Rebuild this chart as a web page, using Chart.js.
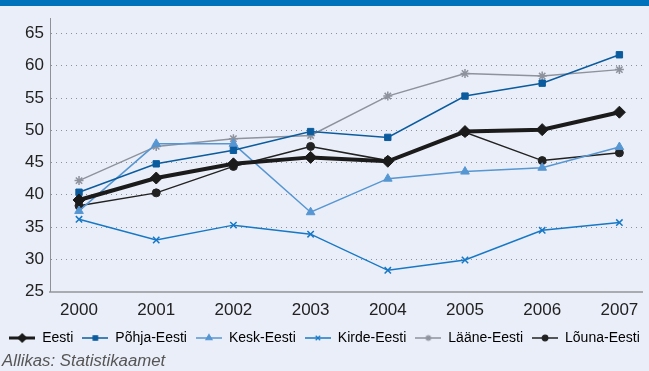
<!DOCTYPE html>
<html>
<head>
<meta charset="utf-8">
<script src="https://cdn.jsdelivr.net/npm/chart.js@4/dist/chart.umd.min.js"></script>
<style>
  html, body { margin: 0; padding: 0; }
  body { width: 649px; height: 371px; background: #eaeef8; position: relative; overflow: hidden;
         font-family: "Liberation Sans", Arial, sans-serif; }
  #topbar { position: absolute; left: 0; top: 0; width: 649px; height: 6px; background: #0071bb; }
  #chart { position: absolute; left: 0; top: 6px; }
  #source { position: absolute; left: 2px; top: 351px; font-size: 16.8px; font-style: italic; color: #555; }
</style>
</head>
<body>
<div id="topbar"></div>
<canvas id="chart" width="649" height="349"></canvas>
<div id="source">Allikas: Statistikaamet</div>
<script>
// ---------- 数据 ----------
const years  = [2000, 2001, 2002, 2003, 2004, 2005, 2006, 2007];
const yTicks = [25, 30, 35, 40, 45, 50, 55, 60, 65];

const eesti = [39.2, 42.6, 44.8, 45.8, 45.2, 49.8, 50.1, 52.8];
const pohja = [40.4, 44.8, 46.9, 49.8, 48.9, 55.3, 57.3, 61.7];
const kesk  = [37.5, 47.9, 47.9, 37.3, 42.5, 43.6, 44.2, 47.4];
const kirde = [36.2, 33.0, 35.3, 33.9, 28.3, 29.9, 34.5, 35.7];
const laane = [42.2, 47.5, 48.7, 49.2, 55.3, 58.8, 58.4, 59.4];
const louna = [38.3, 40.3, 44.4, 47.5, 45.3, 49.7, 45.3, 46.5];

const pts = (arr) => arr.map((v, i) => ({ x: years[i], y: v }));
const FONT = '"Liberation Sans", Arial, sans-serif';

// ---------- 图例图标：线 + 标记 ----------
function makeIcon(color, lineW, style, r) {
  const c = document.createElement('canvas');
  c.width = 26; c.height = 14;
  const ctx = c.getContext('2d');
  ctx.strokeStyle = color; ctx.fillStyle = color;
  ctx.lineWidth = lineW;
  ctx.beginPath(); ctx.moveTo(0, 7); ctx.lineTo(26, 7); ctx.stroke();
  ctx.lineWidth = 1.2;
  Chart.helpers.drawPoint(ctx, { pointStyle: style, radius: r, borderWidth: 1.2 }, 13, 7);
  return c;
}

const series = [
  { label: 'Eesti',       data: eesti, color: '#1b1b1b', w: 4,   style: 'rectRot',  r: 6,   lw: 3 },
  { label: 'Põhja-Eesti', data: pohja, color: '#0a5c9e', w: 1.5, style: 'rect',     r: 4.5, lw: 1.5 },
  { label: 'Kesk-Eesti',  data: kesk,  color: '#5696d2', w: 1.5, style: 'triangle', r: 5,   lw: 1.5 },
  { label: 'Kirde-Eesti', data: kirde, color: '#1778c6', w: 1.5, style: 'crossRot', r: 4.5, lw: 1.5 },
  { label: 'Lääne-Eesti', data: laane, color: '#8d929c', w: 1.5, style: 'star',     r: 4.5, lw: 1.5 },
  { label: 'Lõuna-Eesti', data: louna, color: '#222222', w: 1.5, style: 'circle',   r: 4,   lw: 1.5 }
];

const icons = series.map(s => makeIcon(s.color, s.lw, s.style, s.r * 0.7));

new Chart(document.getElementById('chart'), {
  type: 'line',
  data: {
    datasets: series.map(s => ({
      label: s.label,
      data: pts(s.data),
      borderColor: s.color,
      backgroundColor: s.color,
      borderWidth: s.w,
      pointStyle: s.style,
      pointRadius: s.r,
      pointBorderWidth: s.style === 'crossRot' || s.style === 'star' ? 1.5 : 1,
      tension: 0,
      fill: false
    }))
  },
  options: {
    responsive: false,
    animation: false,
    layout: { padding: { top: 12, left: 0, right: 0, bottom: 0 } },
    plugins: {
      legend: {
        position: 'bottom',
        labels: {
          usePointStyle: true,
          pointStyleWidth: 26,
          padding: 9,
          color: '#222',
          font: { size: 14, family: FONT },
          generateLabels(chart) {
            return chart.data.datasets.map((d, i) => ({
              text: d.label,
              pointStyle: icons[i],
              fillStyle: d.borderColor,
              strokeStyle: d.borderColor,
              lineWidth: 0,
              hidden: false,
              datasetIndex: i
            }));
          }
        }
      },
      tooltip: { enabled: false }
    },
    scales: {
      x: {
        type: 'linear',
        min: 1999.624,
        max: 2007.293,
        afterBuildTicks(scale) { scale.ticks = years.map(v => ({ value: v })); },
        afterFit(scale) { scale.paddingLeft = 0; scale.paddingRight = 0; },
        ticks: {
          callback: (v) => String(v),
          color: '#222',
          padding: 1,
          font: { size: 17, family: FONT }
        },
        grid: { display: false },
        border: { display: true, color: '#a9abb0', width: 2 }
      },
      y: {
        min: 25,
        max: 67.4,
        afterBuildTicks(scale) { scale.ticks = yTicks.map(v => ({ value: v })); },
        afterFit(scale) { scale.width = 50; scale.paddingTop = 0; scale.paddingBottom = 0; },
        ticks: {
          color: '#222',
          padding: 6,
          font: { size: 17, family: FONT }
        },
        grid: {
          drawTicks: false,
          color: (ctx) => ctx.tick && ctx.tick.value === 25 ? 'rgba(0,0,0,0)' : '#8e9097',
          lineWidth: 1
        },
        border: { display: true, color: '#8f9197', width: 1, dash: [1, 4] }
      }
    }
  }
});
</script>
</body>
</html>
